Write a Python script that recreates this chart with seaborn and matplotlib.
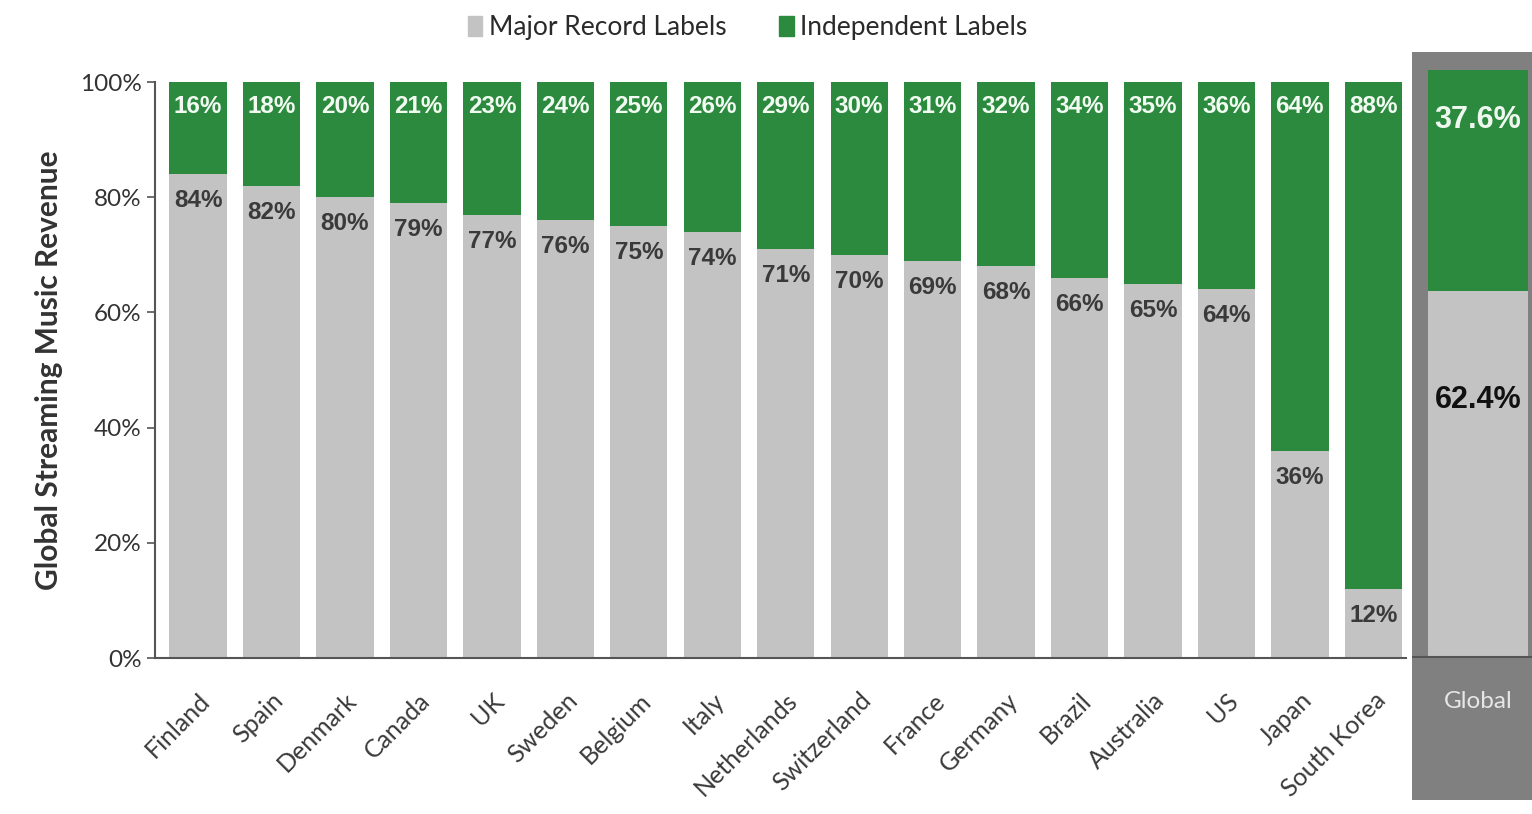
import pandas as pd
import matplotlib.pyplot as plt
import seaborn as sns
from matplotlib.patches import Patch

sns.set_style("white")
plt.rcParams['font.family'] = ['Lato', 'DejaVu Sans']

# data
countries = ["Finland", "Spain", "Denmark", "Canada", "UK", "Sweden", "Belgium", "Italy",
             "Netherlands", "Switzerland", "France", "Germany", "Brazil", "Australia",
             "US", "Japan", "South Korea"]
major = [84, 82, 80, 79, 77, 76, 75, 74, 71, 70, 69, 68, 66, 65, 64, 36, 12]
indep = [16, 18, 20, 21, 23, 24, 25, 26, 29, 30, 31, 32, 34, 35, 36, 64, 88]
global_major = 62.4
global_indep = 37.6

GREEN = "#2b8a3e"
GRAY = "#c3c3c3"
PANEL = "#808080"
NUMFONT = ['Liberation Sans', 'DejaVu Sans']

df = pd.DataFrame({"country": countries, "major": major, "indep": indep})
df["total"] = df["major"] + df["indep"]

fig = plt.figure(figsize=(15.32, 8.14), dpi=100)
ax = fig.add_axes([0.101, 0.1916, 0.817, 0.7076])

sns.barplot(data=df, x="country", y="total", color=GREEN, width=0.78, ax=ax,
            saturation=1, edgecolor="none")
sns.barplot(data=df, x="country", y="major", color=GRAY, width=0.78, ax=ax,
            saturation=1, edgecolor="none")

for i, row in df.iterrows():
    ax.text(i, 95.8, f"{row['indep']}%", ha="center", va="center", color="#f2fbf2",
            fontsize=17.5, fontweight="bold", family=NUMFONT)
    ax.text(i, row["major"] - 4.6, f"{row['major']}%", ha="center", va="center",
            color="#3a3a3a", fontsize=17.5, fontweight="bold", family=NUMFONT)

ax.set_ylim(0, 100)
ax.set_xlim(-0.59, 16.45)
ax.set_yticks([0, 20, 40, 60, 80, 100])
ax.set_yticklabels([f"{v}%" for v in [0, 20, 40, 60, 80, 100]], fontsize=17.5, color="#333333")
ax.tick_params(axis="y", length=6, color="#555555", width=1.2, left=True)
ax.set_xticks(range(len(countries)))
ax.set_xticklabels(countries, rotation=45, ha="right", rotation_mode="anchor",
                   fontsize=18, color="#3a3a3a")
ax.tick_params(axis="x", length=0, pad=22)
ax.set_xlabel("")
ax.set_ylabel("Global Streaming Music Revenue", fontsize=21.5, fontweight="bold",
              color="#333333", labelpad=12)
for s in ["top", "right"]:
    ax.spines[s].set_visible(False)
ax.spines["left"].set_color("#555555")
ax.spines["left"].set_linewidth(1.5)
ax.spines["bottom"].set_color("#555555")
ax.spines["bottom"].set_linewidth(1.5)

# legend
handles = [Patch(color=GRAY, label="Major Record Labels"),
           Patch(color=GREEN, label="Independent Labels")]
fig.legend(handles=handles, loc="center", bbox_to_anchor=(0.488, 0.966), ncol=2,
           frameon=False, fontsize=19, handlelength=0.55, handleheight=0.8,
           handletextpad=0.25, columnspacing=2.0, labelcolor="#2a2a2a")

# global panel
gx = fig.add_axes([1412 / 1532, 1 - 800 / 814, 120 / 1532, 748 / 814])
gx.set_facecolor(PANEL)
gdf = pd.DataFrame({"region": ["Global"], "major": [global_major], "total": [global_major + global_indep]})
sns.barplot(data=gdf, x="region", y="total", color=GREEN, width=0.83, ax=gx,
            saturation=1, edgecolor="none")
sns.barplot(data=gdf, x="region", y="major", color=GRAY, width=0.83, ax=gx,
            saturation=1, edgecolor="none")
gx.set_xlim(-0.55, 0.45)
gx.set_ylim(-24.36, 103.07)
gx.axhline(0, color="#555555", lw=1.5)
gx.text(0, 91.5, f"{global_indep}%", ha="center", va="center", color="#eef8ee",
        fontsize=22, fontweight="bold", family=NUMFONT)
gx.text(0, 43.8, f"{global_major}%", ha="center", va="center", color="#111111",
        fontsize=22, fontweight="bold", family=NUMFONT)
gx.text(0, -7.5, "Global", ha="center", va="center", color="#e6e6e6", fontsize=17.5)
gx.set_xticks([])
gx.set_yticks([])
gx.set_xlabel("")
gx.set_ylabel("")
for s in gx.spines.values():
    s.set_visible(False)

fig.savefig("out.png", dpi=100, facecolor="white")
